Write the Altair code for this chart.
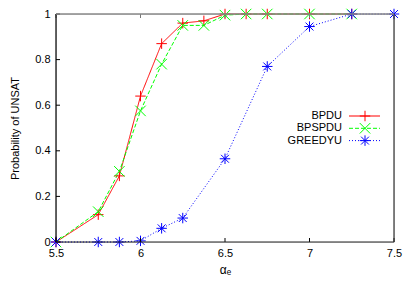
import altair as alt
import pandas as pd

# ---- data ----
series = ["BPDU", "BPSPDU", "GREEDYU"]
alpha_bpdu = [5.5, 5.75, 5.875, 6.0, 6.125, 6.25, 6.375, 6.5, 6.625, 6.75, 7.0, 7.25]
p_bpdu = [0.0, 0.12, 0.29, 0.64, 0.87, 0.96, 0.97, 1.0, 1.0, 1.0, 1.0, 1.0]
alpha_bpspdu = [5.5, 5.75, 5.875, 6.0, 6.125, 6.25, 6.375, 6.5, 6.625, 6.75, 7.0, 7.25]
p_bpspdu = [0.0, 0.133, 0.31, 0.575, 0.78, 0.95, 0.95, 0.995, 1.0, 1.0, 1.0, 1.0]
alpha_greedy = [5.5, 5.75, 5.875, 6.0, 6.125, 6.25, 6.5, 6.75, 7.0, 7.25, 7.5]
p_greedy = [0.0, 0.0, 0.0, 0.005, 0.06, 0.105, 0.365, 0.77, 0.945, 1.0, 1.0]
x_ticks = [5.5, 6.0, 6.5, 7.0, 7.5]
y_ticks = [0.0, 0.2, 0.4, 0.6, 0.8, 1.0]
x_title = "αₑ"
y_title = "Probability of UNSAT"

colors = ["#ff0000", "#00ff00", "#0000ff"]
dashes = [[1, 0], [4, 2], [1, 2]]
shapes = [
    "M-1,0L1,0M0,-1L0,1",
    "M-1,-1L1,1M-1,1L1,-1",
    "M-1,0L1,0M0,-1L0,1M-0.75,-0.75L0.75,0.75M-0.75,0.75L0.75,-0.75",
]

W, H = 338, 228
FONT = "Liberation Sans"

rows = []
for name, xs, ys in [("BPDU", alpha_bpdu, p_bpdu), ("BPSPDU", alpha_bpspdu, p_bpspdu),
                     ("GREEDYU", alpha_greedy, p_greedy)]:
    for i, (a, p) in enumerate(zip(xs, ys)):
        rows.append({"series": name, "alpha": a, "p": p, "order": i})
df = pd.DataFrame(rows)

xscale = alt.Scale(domain=[5.5, 7.5], nice=False, zero=False)
yscale = alt.Scale(domain=[0, 1], nice=False)
color = alt.Color("series:N", scale=alt.Scale(domain=series, range=colors), legend=None)
dash = alt.StrokeDash("series:N", scale=alt.Scale(domain=series, range=dashes), legend=None)
shape = alt.Shape("series:N", scale=alt.Scale(domain=series, range=shapes), legend=None)

xaxis = alt.Axis(values=x_ticks, ticks=False, domain=False, grid=False, labelFontSize=11,
                 labelFont=FONT, labelColor="black", labelPadding=5, labelFlush=False,
                 labelExpr="format(datum.value, '~g')",
                 title=x_title, titleFont=FONT, titleFontSize=12, titleFontWeight="normal",
                 titleColor="black", titleX=169, titleY=27, titleBaseline="middle")
yaxis = alt.Axis(values=y_ticks, ticks=False, domain=False, grid=False, labelFontSize=11,
                 labelFont=FONT, labelColor="black", labelPadding=6,
                 labelExpr="datum.value == 0 || datum.value == 1 ? format(datum.value, 'd') : format(datum.value, '.1f')",
                 title=y_title, titleFont=FONT, titleFontSize=11, titleFontWeight="normal",
                 titleColor="black", titleX=-41, titleY=H / 2, titleAngle=270, titleBaseline="middle",
                 titleAlign="center")

base = alt.Chart(df)
lines = base.mark_line(strokeWidth=1).encode(
    x=alt.X("alpha:Q", scale=xscale, axis=xaxis),
    y=alt.Y("p:Q", scale=yscale, axis=yaxis),
    color=color, strokeDash=dash, order="order:Q", detail="series:N")
points = base.mark_point(filled=False, size=110, strokeWidth=1, opacity=1).encode(
    x=alt.X("alpha:Q", scale=xscale), y=alt.Y("p:Q", scale=yscale), color=color, shape=shape)

# borders and inward ticks
xt = pd.DataFrame({"v": x_ticks})
yt = pd.DataFrame({"v": y_ticks})
bottom_ticks = alt.Chart(xt).mark_rule(color="black", strokeWidth=1).encode(
    x=alt.X("v:Q", scale=xscale), y=alt.value(H), y2=alt.value(H - 4))
top_ticks = alt.Chart(xt).mark_rule(color="#777", strokeWidth=1).encode(
    x=alt.X("v:Q", scale=xscale), y=alt.value(0), y2=alt.value(4))
left_ticks = alt.Chart(yt).mark_rule(color="black", strokeWidth=1).encode(
    y=alt.Y("v:Q", scale=yscale), x=alt.value(0), x2=alt.value(4))
one = pd.DataFrame({"k": [0]})
border = alt.Chart(one)
b_left = border.mark_rule(color="black", strokeWidth=1.2).encode(x=alt.value(0), y=alt.value(0), y2=alt.value(H))
b_bottom = border.mark_rule(color="#222", strokeWidth=1.2).encode(x=alt.value(0), x2=alt.value(W), y=alt.value(H))
b_right = border.mark_rule(color="#333", strokeWidth=1.2).encode(x=alt.value(W), y=alt.value(0), y2=alt.value(H))
b_top = border.mark_rule(color="#888", strokeWidth=1.5).encode(x=alt.value(0), x2=alt.value(W), y=alt.value(0))

# legend (gnuplot style: label, then line with symbol)
legend_layers = []
leg_y0, leg_dy = 102, 12.3
for i, name in enumerate(series):
    ld = pd.DataFrame({"series": [name]})
    yy = leg_y0 + i * leg_dy
    legend_layers.append(alt.Chart(ld).mark_text(align="right", baseline="middle", fontSize=11,
                                                 font=FONT, color="black").encode(
        text="series:N", x=alt.value(286), y=alt.value(yy)))
    legend_layers.append(alt.Chart(ld).mark_rule(strokeWidth=1, color=colors[i],
                                                 strokeDash=dashes[i]).encode(
        x=alt.value(293), x2=alt.value(324), y=alt.value(yy)))
    legend_layers.append(alt.Chart(ld).mark_point(filled=False, size=110, strokeWidth=1,
                                                  color=colors[i], shape=shapes[i], opacity=1).encode(
        x=alt.value(309), y=alt.value(yy)))

chart = alt.layer(lines, points, bottom_ticks, top_ticks, left_ticks,
                  b_left, b_bottom, b_right, b_top, *legend_layers).properties(
    width=W, height=H,
    autosize=alt.AutoSizeParams(type="none"),
    padding={"left": 48, "top": 6, "right": 13, "bottom": 41},
).configure_view(stroke=None).configure(background="white")

chart.save("out.html", embed_options={"renderer": "svg", "actions": False})
